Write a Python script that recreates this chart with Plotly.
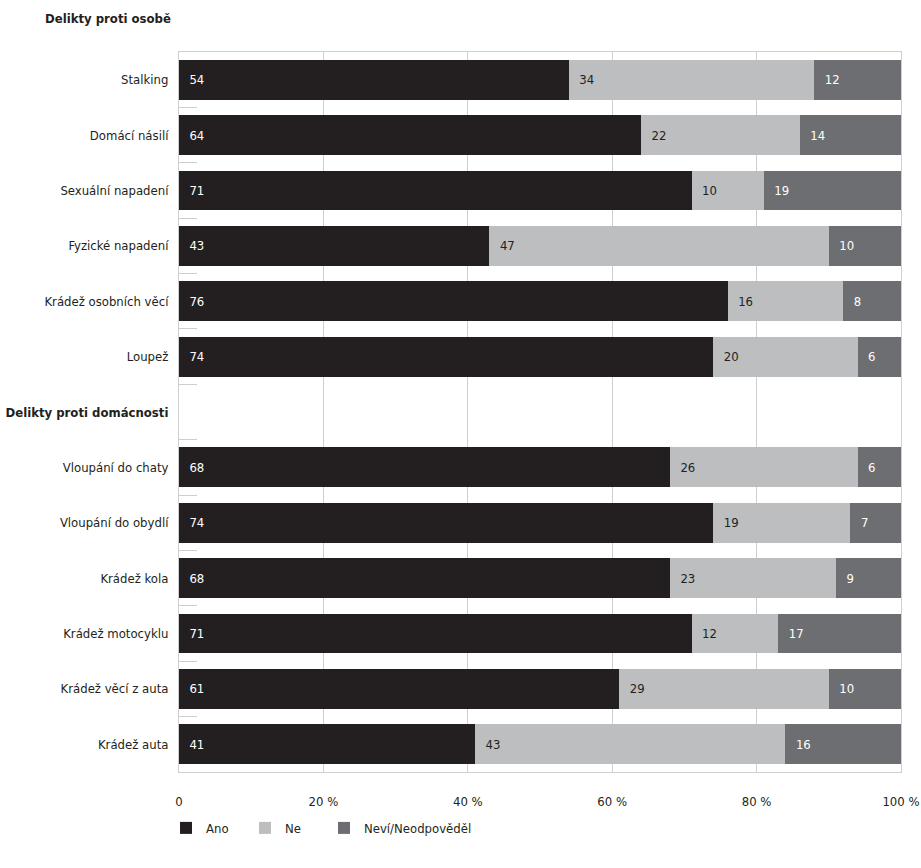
import plotly.graph_objects as go

categories = ["Stalking", "Domácí násilí", "Sexuální napadení", "Fyzické napadení",
              "Krádež osobních věcí", "Loupež", "<b>Delikty proti domácnosti</b>",
              "Vloupání do chaty", "Vloupání do obydlí", "Krádež kola",
              "Krádež motocyklu", "Krádež věcí z auta", "Krádež auta"]
ano = [54, 64, 71, 43, 76, 74, None, 68, 74, 68, 71, 61, 41]
ne = [34, 22, 10, 47, 16, 20, None, 26, 19, 23, 12, 29, 43]
nevi = [12, 14, 19, 10, 8, 6, None, 6, 7, 9, 17, 10, 16]
series_names = ["Ano", "Ne", "Neví/Neodpověděl"]
x_ticks = [0, 20, 40, 60, 80, 100]
x_tick_labels = ["0", "20 %", "40 %", "60 %", "80 %", "100 %"]
header_top = "<b>Delikty proti osobě</b>"

FONT = "DejaVu Sans Condensed, DejaVu Sans, sans-serif"
colors = ["#231f20", "#bcbec0", "#6d6e71"]
text_colors = ["white", "#231f20", "white"]

fig = go.Figure()
for name, vals, c, tc in zip(series_names, [ano, ne, nevi], colors, text_colors):
    fig.add_trace(go.Bar(
        y=categories, x=vals, name=name, orientation="h",
        marker=dict(color=c, line=dict(width=0)),
        text=[("" if v is None else "\u00a0\u00a0" + str(v)) for v in vals],
        textposition="inside", insidetextanchor="start",
        textfont=dict(color=tc, size=13, family=FONT),
        hoverinfo="skip",
    ))
# empty legend slot so the last legend label is not clipped by the fixed entry width
fig.add_trace(go.Bar(y=[categories[0]], x=[0], name=" ", orientation="h",
                     marker=dict(color="rgba(0,0,0,0)"), hoverinfo="skip"))

fig.update_layout(
    barmode="stack", bargap=0.28,
    width=921, height=868,
    margin=dict(l=179, r=20, t=52, b=96, autoexpand=False),
    paper_bgcolor="white", plot_bgcolor="white",
    font=dict(family=FONT, size=13, color="#231f20"),
    legend=dict(orientation="h", x=-13 / 722, xanchor="left", y=-0.0777, yanchor="middle",
                font=dict(size=13, family=FONT), entrywidth=34, entrywidthmode="pixels",
                traceorder="normal", bgcolor="rgba(0,0,0,0)"),
    showlegend=True,
)
fig.update_xaxes(range=[0, 100], tickvals=x_ticks, ticktext=x_tick_labels,
                 showgrid=True, gridcolor="#cfcfcf", gridwidth=1,
                 showline=True, linecolor="#cfcfcf", mirror=True,
                 zeroline=False, ticks="", ticklabelstandoff=17, automargin=False,
                 tickfont=dict(size=13, family=FONT))
fig.update_yaxes(autorange="reversed", showgrid=False, automargin=False,
                 showline=True, linecolor="#cfcfcf", mirror=True,
                 ticks="inside", tickson="boundaries", ticklen=18, tickcolor="#cfcfcf",
                 ticklabelstandoff=7, tickfont=dict(size=13, family=FONT))
fig.add_annotation(text=header_top, xref="paper", yref="paper", x=0, y=1,
                   xanchor="right", yanchor="middle", xshift=-6, yshift=34,
                   showarrow=False, font=dict(size=13, family=FONT, color="#231f20"))

fig.write_html("out.html", config={"displayModeBar": False},
               post_script="document.body.style.margin='0';")
